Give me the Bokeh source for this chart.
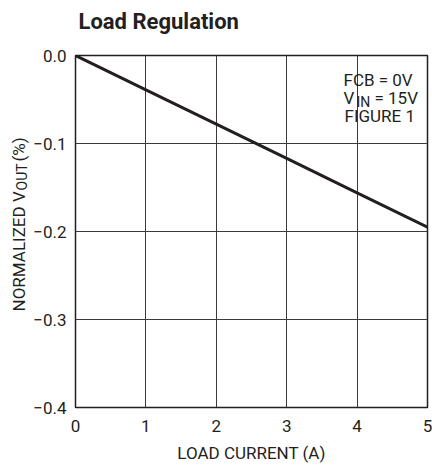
import math
from bokeh.plotting import figure
from bokeh.models import Range1d, FixedTicker, Label
from bokeh.layouts import row, column
from bokeh.embed import file_html
from bokeh.resources import INLINE

# ---- data ----
load_current = [0, 1, 2, 3, 4, 5]
norm_vout = [0.0, -0.039, -0.078, -0.117, -0.156, -0.195]

x_ticks = [0, 1, 2, 3, 4, 5]
x_tick_labels = ["0", "1", "2", "3", "4", "5"]
y_ticks = [0.0, -0.1, -0.2, -0.3, -0.4]
y_tick_labels = ["0.0", "\u22120.1", "\u22120.2", "\u22120.3", "\u22120.4"]

title_text = "Load Regulation"
x_label = "LOAD CURRENT (A)"
y_label_parts = ["NORMALIZED V", "OUT", "(%)"]
note_lines = ["FCB = 0V", "FIGURE 1"]
vin_parts = ["V", "IN", "= 15V"]

FONT = "Roboto"
INK = "#231f20"
W, H = 432, 471
TITLE_H = 40
STRIP_W = 30


def blank(width, height):
    f = figure(width=width, height=height, output_backend="svg", toolbar_location=None,
               x_range=Range1d(0, 1), y_range=Range1d(0, 1), min_border=0)
    f.axis.visible = False
    f.grid.visible = False
    f.outline_line_color = None
    return f


def lab(fig, text, x, y, size="17px", angle=0.0, style="normal"):
    fig.add_layout(Label(x=x, y=y, x_units="screen", y_units="screen", text=text,
                         text_font=FONT, text_font_size=size, text_color=INK,
                         text_font_style=style,
                         text_align="left", text_baseline="alphabetic", angle=angle))


# ---- title strip ----
head = blank(W, TITLE_H)
lab(head, title_text, 78, 19, size="22px", style="bold")

# ---- narrow strip holding the rotated y-axis title ----
ylab = blank(STRIP_W, H - TITLE_H)
lab(ylab, y_label_parts[0], 18, 96, angle=math.pi / 2)
lab(ylab, y_label_parts[1], 21, 217, size="14px", angle=math.pi / 2)
lab(ylab, y_label_parts[2], 18, 246, angle=math.pi / 2)

# ---- main chart ----
p = figure(width=W - STRIP_W, height=H - TITLE_H, output_backend="svg",
           toolbar_location=None,
           x_range=Range1d(0, 5), y_range=Range1d(-0.4, 0.0),
           min_border_left=45, min_border_right=5, min_border_top=15,
           min_border_bottom=64)

p.outline_line_color = INK
p.outline_line_width = 1.5
p.background_fill_color = "white"
p.border_fill_color = "white"

for ax in (p.xaxis[0], p.yaxis[0]):
    ax.axis_line_color = None
    ax.major_tick_line_color = None
    ax.minor_tick_line_color = None
    ax.major_tick_out = 0
    ax.major_tick_in = 0
    ax.major_label_text_font = FONT
    ax.major_label_text_font_size = "17px"
    ax.major_label_text_color = INK

p.xaxis.ticker = FixedTicker(ticks=x_ticks)
p.yaxis.ticker = FixedTicker(ticks=y_ticks)
p.xaxis.major_label_overrides = {t: l for t, l in zip(x_ticks, x_tick_labels)}
p.yaxis.major_label_overrides = {t: l for t, l in zip(y_ticks, y_tick_labels)}
p.xaxis.major_label_standoff = 12
p.yaxis.major_label_standoff = 9

p.xaxis.axis_label = x_label
p.xaxis.axis_label_text_font = FONT
p.xaxis.axis_label_text_font_size = "17px"
p.xaxis.axis_label_text_font_style = "normal"
p.xaxis.axis_label_text_color = INK
p.xaxis.axis_label_standoff = 8

p.xgrid.ticker = FixedTicker(ticks=x_ticks)
p.ygrid.ticker = FixedTicker(ticks=y_ticks)
p.grid.grid_line_color = "#3a3a3a"
p.grid.grid_line_width = 1

p.line(load_current, norm_vout, line_color=INK, line_width=3)

# notes in plot
lab(p, note_lines[0], 268, 328)
lab(p, vin_parts[0], 268, 310)
lab(p, vin_parts[1], 281, 306, size="14px")
lab(p, vin_parts[2], 299, 310)
lab(p, note_lines[1], 269, 292)

layout = column(head, row(ylab, p))
open("out.html", "w").write(file_html(layout, INLINE))
